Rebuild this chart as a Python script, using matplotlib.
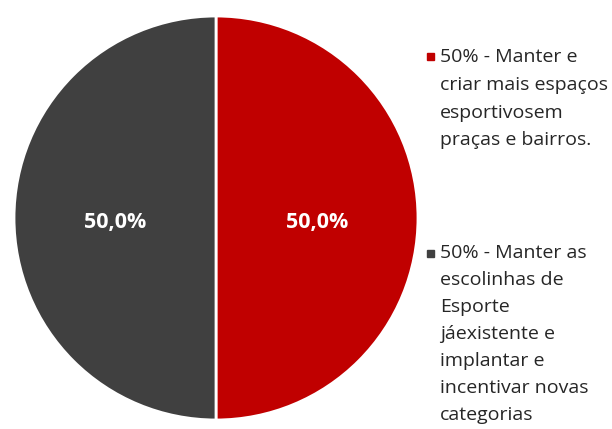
import matplotlib
matplotlib.use("Agg")
import matplotlib.pyplot as plt
import numpy as np
from matplotlib.patches import Rectangle

plt.rcParams["font.family"] = ["Open Sans", "DejaVu Sans"]

labels = [
    "50% - Manter e\ncriar mais espaços\nesportivosem\npraças e bairros.",
    "50% - Manter as\nescolinhas de\nEsporte\njáexistente e\nimplantar e\nincentivar novas\ncategorias",
]
values = [50.0, 50.0]
colors = ["#C00000", "#404040"]

W, H = 612, 429
fig = plt.figure(figsize=(W / 100, H / 100), dpi=100)
ax = fig.add_axes([12 / W, 7 / H, 408 / W, 408 / H])
wedges, texts = ax.pie(values, colors=colors, startangle=90, counterclock=False,
                       wedgeprops=dict(edgecolor="white", linewidth=2))
for w, v in zip(wedges, values):
    ang = np.deg2rad((w.theta1 + w.theta2) / 2)
    ax.text(0.5 * np.cos(ang), 0.5 * np.sin(ang) - 0.02, f"{v:.1f}%".replace(".", ","),
            ha="center", va="center", color="white", fontsize=15.5, fontweight="bold")
ax.set_xlim(-1.01, 1.01)
ax.set_ylim(-1.01, 1.01)
ax.set_aspect("equal")
ax.axis("off")

# legend drawn by hand, text wraps like the original
sq_y = [56, 253]
txt_top = [48, 244]
spacing = [1.7, 1.64]
for lab, col, ys, yt, ls in zip(labels, colors, sq_y, txt_top, spacing):
    fig.patches.append(Rectangle((427 / W, 1 - (ys + 3.5) / H), 7 / W, 7 / H,
                                 transform=fig.transFigure, color=col))
    fig.text(440 / W, 1 - yt / H, lab, ha="left", va="top", fontsize=14,
             color="#262626", linespacing=ls)

fig.savefig("out.png", dpi=100, facecolor="white")
